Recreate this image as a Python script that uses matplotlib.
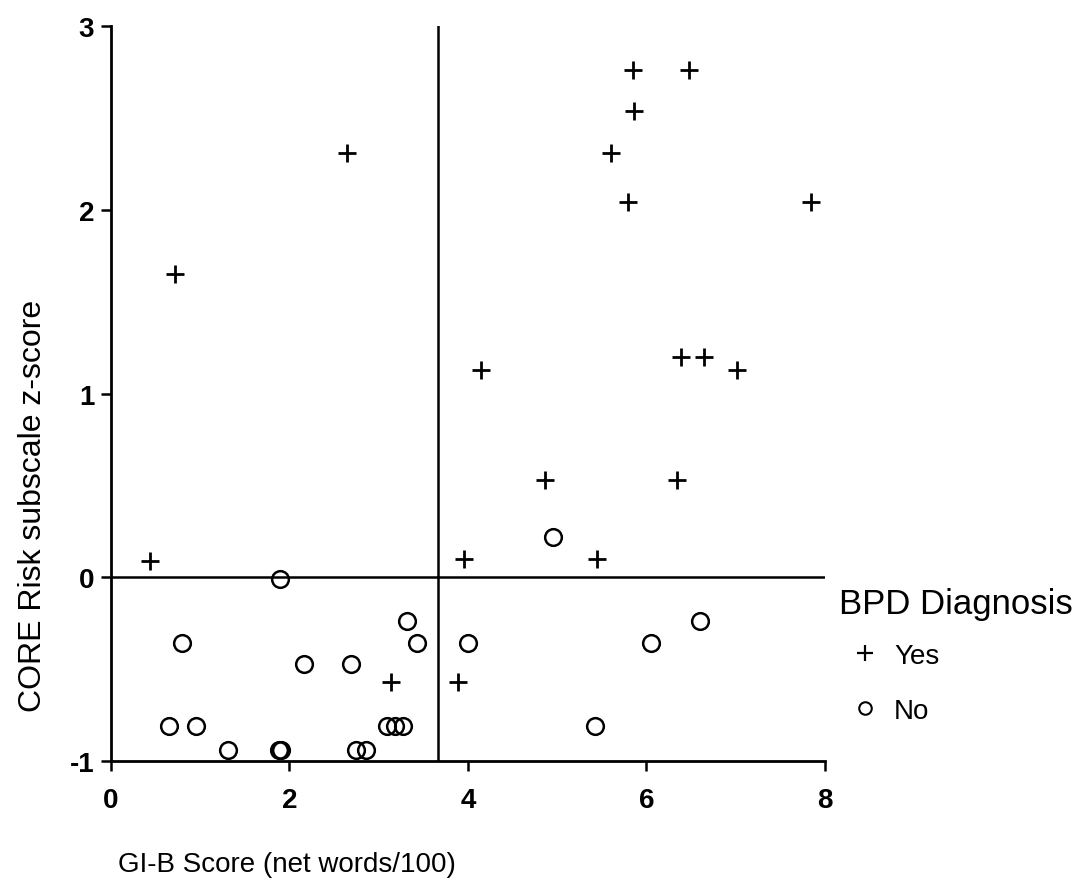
import matplotlib
matplotlib.use("Agg")
import matplotlib.pyplot as plt
from matplotlib.lines import Line2D

plt.rcParams['font.family'] = ['Liberation Sans', 'DejaVu Sans']
plt.rcParams['axes.unicode_minus'] = False

# BPD diagnosis = Yes (plus markers)
yes_x = [0.44, 0.72, 2.65, 3.14, 3.89, 3.96, 4.15, 4.86, 5.45, 5.60,
         5.80, 5.85, 5.86, 6.35, 6.39, 6.48, 6.65, 7.02, 7.85]
yes_y = [0.09, 1.65, 2.31, -0.57, -0.57, 0.10, 1.13, 0.53, 0.10, 2.31,
         2.04, 2.76, 2.54, 0.53, 1.20, 2.76, 1.20, 1.13, 2.04]

# BPD diagnosis = No (circle markers)
no_x = [0.65, 0.80, 0.95, 1.31, 1.88, 1.91, 1.90, 2.16, 2.69, 2.75, 2.86,
        3.09, 3.18, 3.27, 3.32, 3.43, 4.00, 4.95, 5.42, 6.05, 6.60]
no_y = [-0.81, -0.36, -0.81, -0.94, -0.94, -0.94, -0.01, -0.47, -0.47, -0.94, -0.94,
        -0.81, -0.81, -0.81, -0.24, -0.36, -0.36, 0.22, -0.81, -0.36, -0.24]

# cut-off lines
x_cut = 3.67
y_cut = 0.0

x_ticks = [0, 2, 4, 6, 8]
y_ticks = [-1, 0, 1, 2, 3]

fig = plt.figure(figsize=(10.88, 8.95), dpi=100)
ax = fig.add_axes([0.102, 0.1486, 0.656, 0.8212])

ax.plot(yes_x, yes_y, linestyle='none', marker='+', markersize=12.5,
        markeredgewidth=2.0, color='black')
ax.plot(no_x, no_y, linestyle='none', marker='o', markersize=12,
        markerfacecolor='none', markeredgewidth=1.8, markeredgecolor='black')

ax.axvline(x_cut, color='black', linewidth=1.8)
ax.axhline(y_cut, color='black', linewidth=1.8)

ax.set_xlim(0, 8)
ax.set_ylim(-1, 3)
ax.set_xticks(x_ticks)
ax.set_yticks(y_ticks)
ax.tick_params(direction='out', length=7, width=1.8, labelsize=20)
ax.tick_params(axis='x', pad=12)
ax.tick_params(axis='y', pad=5)
for lab in ax.get_xticklabels() + ax.get_yticklabels():
    lab.set_fontweight('bold')

for s in ['top', 'right']:
    ax.spines[s].set_visible(False)
for s in ['left', 'bottom']:
    ax.spines[s].set_linewidth(2.0)

fig.text(0.030, 0.435, 'CORE Risk subscale z-score', fontsize=23, rotation=90,
         ha='center', va='center')
fig.text(0.108, 0.034, 'GI-B Score (net words/100)', fontsize=20, ha='left', va='center')

handles = [
    Line2D([], [], linestyle='none', marker='+', markersize=11, markeredgewidth=1.6, color='black'),
    Line2D([], [], linestyle='none', marker='o', markersize=9, markerfacecolor='none',
           markeredgewidth=1.5, markeredgecolor='black'),
]
leg = fig.legend(handles, ['Yes', 'No'], title='BPD Diagnosis', loc='upper left',
                 bbox_to_anchor=(0.758, 0.358), frameon=False, fontsize=20,
                 title_fontsize=25, handlelength=1.9, handletextpad=0.1,
                 labelspacing=1.05, borderpad=0)
leg._legend_box.align = 'left'
leg._legend_box.sep = 16

fig.savefig('out.png', dpi=100)
